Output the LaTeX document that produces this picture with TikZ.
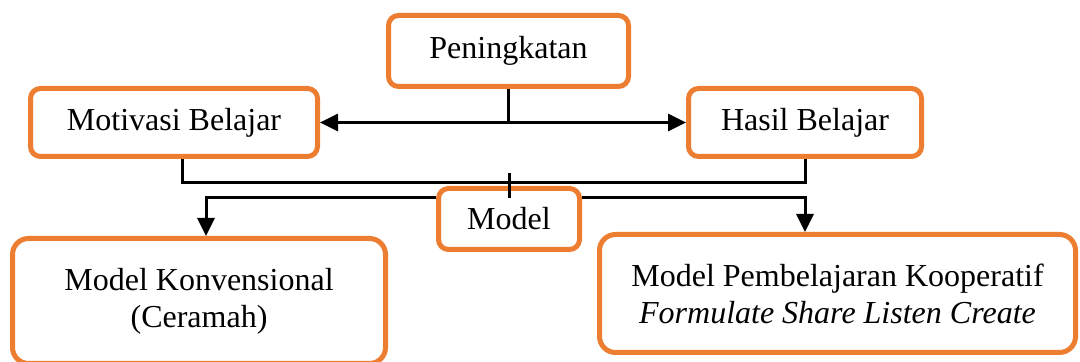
\documentclass[tikz,border=0pt]{standalone}
\usepackage{fontspec}
\setmainfont{Liberation Serif}
\usepackage{tikz}
\usetikzlibrary{
    positioning,
    arrows.meta,
    calc,
}
\definecolor{boxorange}{HTML}{ED7D31}
\tikzset{
    % Box styles
    box/.style={rectangle, draw=boxorange, line width=2.5pt, rounded corners=5pt,
                fill=white, align=center, inner sep=0pt,
                font=\fontsize{16}{18.5}\selectfont},
    big box/.style={box, rounded corners=8pt},
    % Line styles
    link/.style={line width=1.5pt},
    arrow/.style={link, -{Triangle[length=9pt, width=8.5pt]}},
}

\begin{document}
\begin{tikzpicture}[x=0.5pt, y=-0.5pt]
    \useasboundingbox (0,0) rectangle (1080,362);

    % Top
    \node[box, minimum width=120pt, minimum height=35.5pt] (peningkatan) at (508.5, 51) {Peningkatan};

    % Motivation and results
    \node[box, minimum width=143.5pt, minimum height=34pt] (motivasi) at (174, 122.5) {Motivasi Belajar};
    \node[box, minimum width=116.5pt, minimum height=34pt] (hasil) at (805, 122.5) {Hasil Belajar};

    % Model
    \node[box, minimum width=70.5pt, minimum height=30.5pt] (model) at (509, 219) {Model};

    % Bottom models
    \node[big box, minimum width=186.5pt, minimum height=62.5pt] (konvensional) at (199, 301)
        {Model Konvensional\\(Ceramah)};
    \node[big box, minimum width=238pt, minimum height=59pt] (kooperatif) at (837.5, 293.5)
        {Model Pembelajaran Kooperatif\\\textit{Formulate Share Listen Create}};

    % Helper levels
    \coordinate (bar) at (0, 183);
    \coordinate (split) at (0, 198);
    \coordinate (fork) at (peningkatan.south |- motivasi.east);

    % Peningkatan to both sides
    \draw[link] (peningkatan.south) -- (fork);
    \draw[arrow] (fork) -- (motivasi.east);
    \draw[arrow] (fork) -- (hasil.west);

    % Bracket under both
    \draw[link] ([xshift=4pt]motivasi.south) |- (bar -| hasil.south) -- (hasil.south);
    \draw[link] ([yshift=5pt]bar -| model.north) -- (split -| model.north);

    % Model to both kinds
    \draw[arrow] (split -| model.west) -| ([xshift=3.5pt]konvensional.north);
    \draw[arrow] (split -| model.east) -| (hasil.south |- kooperatif.north);
\end{tikzpicture}
\end{document}
